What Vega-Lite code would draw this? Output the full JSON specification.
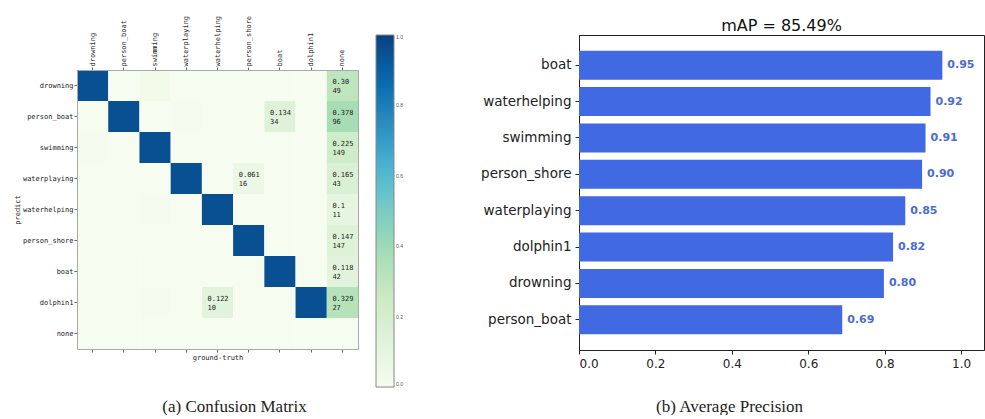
{
  "$schema": "https://vega.github.io/schema/vega-lite/v6.json",
  "background": "white",
  "padding": {"left": 13, "top": 15, "right": 0, "bottom": 0},
  "spacing": 122,
  "datasets": {
    "cm": [
      {"pred": "drowning", "gt": "drowning", "rate": 0.95},
      {"pred": "drowning", "gt": "person_boat", "rate": 0.0},
      {"pred": "drowning", "gt": "swimming", "rate": 0.03},
      {"pred": "drowning", "gt": "waterplaying", "rate": 0.005},
      {"pred": "drowning", "gt": "waterhelping", "rate": 0.005},
      {"pred": "drowning", "gt": "person_shore", "rate": 0.0},
      {"pred": "drowning", "gt": "boat", "rate": 0.0},
      {"pred": "drowning", "gt": "dolphin1", "rate": 0.0},
      {"pred": "drowning", "gt": "none", "rate": 0.30},
      {"pred": "person_boat", "gt": "drowning", "rate": 0.0},
      {"pred": "person_boat", "gt": "person_boat", "rate": 0.95},
      {"pred": "person_boat", "gt": "swimming", "rate": 0.0},
      {"pred": "person_boat", "gt": "waterplaying", "rate": 0.01},
      {"pred": "person_boat", "gt": "waterhelping", "rate": 0.005},
      {"pred": "person_boat", "gt": "person_shore", "rate": 0.0},
      {"pred": "person_boat", "gt": "boat", "rate": 0.134},
      {"pred": "person_boat", "gt": "dolphin1", "rate": 0.0},
      {"pred": "person_boat", "gt": "none", "rate": 0.378},
      {"pred": "swimming", "gt": "drowning", "rate": 0.01},
      {"pred": "swimming", "gt": "person_boat", "rate": 0.005},
      {"pred": "swimming", "gt": "swimming", "rate": 0.95},
      {"pred": "swimming", "gt": "waterplaying", "rate": 0.005},
      {"pred": "swimming", "gt": "waterhelping", "rate": 0.005},
      {"pred": "swimming", "gt": "person_shore", "rate": 0.0},
      {"pred": "swimming", "gt": "boat", "rate": 0.0},
      {"pred": "swimming", "gt": "dolphin1", "rate": 0.0},
      {"pred": "swimming", "gt": "none", "rate": 0.225},
      {"pred": "waterplaying", "gt": "drowning", "rate": 0.005},
      {"pred": "waterplaying", "gt": "person_boat", "rate": 0.0},
      {"pred": "waterplaying", "gt": "swimming", "rate": 0.005},
      {"pred": "waterplaying", "gt": "waterplaying", "rate": 0.95},
      {"pred": "waterplaying", "gt": "waterhelping", "rate": 0.0},
      {"pred": "waterplaying", "gt": "person_shore", "rate": 0.061},
      {"pred": "waterplaying", "gt": "boat", "rate": 0.0},
      {"pred": "waterplaying", "gt": "dolphin1", "rate": 0.0},
      {"pred": "waterplaying", "gt": "none", "rate": 0.165},
      {"pred": "waterhelping", "gt": "drowning", "rate": 0.005},
      {"pred": "waterhelping", "gt": "person_boat", "rate": 0.005},
      {"pred": "waterhelping", "gt": "swimming", "rate": 0.01},
      {"pred": "waterhelping", "gt": "waterplaying", "rate": 0.005},
      {"pred": "waterhelping", "gt": "waterhelping", "rate": 0.95},
      {"pred": "waterhelping", "gt": "person_shore", "rate": 0.0},
      {"pred": "waterhelping", "gt": "boat", "rate": 0.0},
      {"pred": "waterhelping", "gt": "dolphin1", "rate": 0.005},
      {"pred": "waterhelping", "gt": "none", "rate": 0.1},
      {"pred": "person_shore", "gt": "drowning", "rate": 0.0},
      {"pred": "person_shore", "gt": "person_boat", "rate": 0.0},
      {"pred": "person_shore", "gt": "swimming", "rate": 0.005},
      {"pred": "person_shore", "gt": "waterplaying", "rate": 0.0},
      {"pred": "person_shore", "gt": "waterhelping", "rate": 0.0},
      {"pred": "person_shore", "gt": "person_shore", "rate": 0.95},
      {"pred": "person_shore", "gt": "boat", "rate": 0.0},
      {"pred": "person_shore", "gt": "dolphin1", "rate": 0.0},
      {"pred": "person_shore", "gt": "none", "rate": 0.147},
      {"pred": "boat", "gt": "drowning", "rate": 0.0},
      {"pred": "boat", "gt": "person_boat", "rate": 0.0},
      {"pred": "boat", "gt": "swimming", "rate": 0.0},
      {"pred": "boat", "gt": "waterplaying", "rate": 0.0},
      {"pred": "boat", "gt": "waterhelping", "rate": 0.0},
      {"pred": "boat", "gt": "person_shore", "rate": 0.0},
      {"pred": "boat", "gt": "boat", "rate": 0.95},
      {"pred": "boat", "gt": "dolphin1", "rate": 0.0},
      {"pred": "boat", "gt": "none", "rate": 0.118},
      {"pred": "dolphin1", "gt": "drowning", "rate": 0.0},
      {"pred": "dolphin1", "gt": "person_boat", "rate": 0.0},
      {"pred": "dolphin1", "gt": "swimming", "rate": 0.01},
      {"pred": "dolphin1", "gt": "waterplaying", "rate": 0.005},
      {"pred": "dolphin1", "gt": "waterhelping", "rate": 0.122},
      {"pred": "dolphin1", "gt": "person_shore", "rate": 0.0},
      {"pred": "dolphin1", "gt": "boat", "rate": 0.0},
      {"pred": "dolphin1", "gt": "dolphin1", "rate": 0.95},
      {"pred": "dolphin1", "gt": "none", "rate": 0.329},
      {"pred": "none", "gt": "drowning", "rate": 0.0},
      {"pred": "none", "gt": "person_boat", "rate": 0.0},
      {"pred": "none", "gt": "swimming", "rate": 0.0},
      {"pred": "none", "gt": "waterplaying", "rate": 0.0},
      {"pred": "none", "gt": "waterhelping", "rate": 0.0},
      {"pred": "none", "gt": "person_shore", "rate": 0.0},
      {"pred": "none", "gt": "boat", "rate": 0.0},
      {"pred": "none", "gt": "dolphin1", "rate": 0.0},
      {"pred": "none", "gt": "none", "rate": 0.0}
    ],
    "ann": [
      {"pred": "drowning", "gt": "none", "ratio": "0.30", "count": "49"},
      {"pred": "person_boat", "gt": "boat", "ratio": "0.134", "count": "34"},
      {"pred": "person_boat", "gt": "none", "ratio": "0.378", "count": "96"},
      {"pred": "swimming", "gt": "none", "ratio": "0.225", "count": "149"},
      {"pred": "waterplaying", "gt": "person_shore", "ratio": "0.061", "count": "16"},
      {"pred": "waterplaying", "gt": "none", "ratio": "0.165", "count": "43"},
      {"pred": "waterhelping", "gt": "none", "ratio": "0.1", "count": "11"},
      {"pred": "person_shore", "gt": "none", "ratio": "0.147", "count": "147"},
      {"pred": "boat", "gt": "none", "ratio": "0.118", "count": "42"},
      {"pred": "dolphin1", "gt": "waterhelping", "ratio": "0.122", "count": "10"},
      {"pred": "dolphin1", "gt": "none", "ratio": "0.329", "count": "27"}
    ],
    "ap": [
      {"cls": "boat", "ap": 0.951},
      {"cls": "waterhelping", "ap": 0.92},
      {"cls": "swimming", "ap": 0.907},
      {"cls": "person_shore", "ap": 0.898},
      {"cls": "waterplaying", "ap": 0.854},
      {"cls": "dolphin1", "ap": 0.822},
      {"cls": "drowning", "ap": 0.798},
      {"cls": "person_boat", "ap": 0.689}
    ]
  },
  "hconcat": [
    {
      "width": 281,
      "height": 314,
      "view": {"stroke": null},
      "title": {"text": "(a) Confusion Matrix", "orient": "bottom", "anchor": "middle", "font": "Liberation Serif", "fontSize": 17, "fontWeight": "normal", "color": "#222", "offset": 38, "dx": 17},
      "resolve": {"axis": {"x": "independent", "y": "independent"}},
      "layer": [
        {
          "data": {"name": "cm"},
          "mark": {"type": "rect"},
          "encoding": {
            "x": {"field": "gt", "type": "nominal", "scale": {"domain": ["drowning", "person_boat", "swimming", "waterplaying", "waterhelping", "person_shore", "boat", "dolphin1", "none"], "paddingInner": 0, "paddingOuter": 0},
              "axis": {"orient": "top", "offset": -35, "title": null, "labelAngle": -90, "labelFont": "DejaVu Sans Mono", "labelFontSize": 7, "labelColor": "#222", "tickSize": 3, "tickColor": "#666", "labelPadding": 1, "domain": true, "domainColor": "#aaa"}},
            "y": {"field": "pred", "type": "nominal", "scale": {"domain": ["drowning", "person_boat", "swimming", "waterplaying", "waterhelping", "person_shore", "boat", "dolphin1", "none"], "range": [35, 314], "paddingInner": 0, "paddingOuter": 0},
              "axis": {"title": "predict", "titleFont": "DejaVu Sans Mono", "titleFontSize": 7, "titleFontWeight": "normal", "titleColor": "#222", "titlePadding": 2, "labelFont": "DejaVu Sans Mono", "labelFontSize": 7, "labelColor": "#222", "tickSize": 3, "tickColor": "#666", "labelPadding": 1, "domain": true, "domainColor": "#aaa"}},
            "color": {"field": "rate", "type": "quantitative",
              "scale": {"domain": [0, 0.125, 0.25, 0.375, 0.5, 0.625, 0.75, 0.875, 1], "range": ["#f7fcf0", "#e0f3db", "#ccebc5", "#a8ddb5", "#7bccc4", "#4eb3d3", "#2b8cbe", "#0868ac", "#084081"]},
              "legend": {"orient": "none", "legendX": 299, "legendY": 0, "direction": "vertical", "title": null, "gradientLength": 352, "gradientThickness": 18, "values": [0, 0.2, 0.4, 0.6, 0.8, 1], "format": ".1f", "labelFontSize": 5, "labelColor": "#555", "gradientStrokeColor": "#888", "gradientStrokeWidth": 1}}
          }
        },
        {
          "data": {"name": "ann"},
          "mark": {"type": "text", "align": "left", "baseline": "middle", "dx": -10, "dy": -4, "font": "DejaVu Sans Mono", "fontSize": 7, "color": "#222"},
          "encoding": {
            "x": {"field": "gt", "type": "nominal", "axis": {"orient": "bottom", "labels": false, "title": "ground-truth", "titleFont": "DejaVu Sans Mono", "titleFontSize": 7, "titleFontWeight": "normal", "titleColor": "#222", "titlePadding": 1, "tickSize": 3, "tickColor": "#666", "domain": true, "domainColor": "#aaa"}},
            "y": {"field": "pred", "type": "nominal", "axis": {"orient": "right", "labels": false, "ticks": false, "title": null, "domain": true, "domainColor": "#aaa"}},
            "text": {"field": "ratio"}
          }
        },
        {
          "data": {"name": "ann"},
          "mark": {"type": "text", "align": "left", "baseline": "middle", "dx": -10, "dy": 5, "font": "DejaVu Sans Mono", "fontSize": 7, "color": "#222"},
          "encoding": {
            "x": {"field": "gt", "type": "nominal", "axis": null},
            "y": {"field": "pred", "type": "nominal", "axis": null},
            "text": {"field": "count"}
          }
        }
      ]
    },
    {
      "width": 405,
      "height": 315,
      "view": {"stroke": "#222", "strokeWidth": 1},
      "title": {"text": "mAP = 85.49%", "font": "DejaVu Sans", "fontSize": 16, "fontWeight": "normal", "color": "#111", "offset": 1},
      "data": {"name": "ap"},
      "encoding": {
        "y": {"field": "cls", "type": "nominal", "sort": ["boat", "waterhelping", "swimming", "person_shore", "waterplaying", "dolphin1", "drowning", "person_boat"], "scale": {"paddingInner": 0.2, "paddingOuter": 0.43},
          "axis": {"title": null, "labelFont": "DejaVu Sans", "labelFontSize": 13.5, "labelColor": "#222", "tickColor": "#222", "domainColor": "#222", "tickSize": 4, "labelPadding": 4}},
        "x": {"field": "ap", "type": "quantitative", "scale": {"domain": [0, 1.06], "nice": false},
          "axis": {"values": [0, 0.2, 0.4, 0.6, 0.8, 1], "format": ".1f", "grid": false, "title": "(b) Average Precision", "titleFont": "Liberation Serif", "titleFontSize": 17, "titleFontWeight": "normal", "titleColor": "#222", "titleX": 150, "titlePadding": 29, "labelFont": "DejaVu Sans", "labelFontSize": 12, "labelColor": "#222", "tickColor": "#222", "domainColor": "#222", "tickSize": 4, "labelPadding": 4}}
      },
      "layer": [
        {"mark": {"type": "bar", "color": "#4169E1"}},
        {"mark": {"type": "text", "align": "left", "baseline": "middle", "dx": 5, "font": "DejaVu Sans", "fontWeight": "bold", "fontSize": 11, "color": "#4a6bd6"},
          "encoding": {"text": {"field": "ap", "type": "quantitative", "format": ".2f"}}}
      ]
    }
  ]
}
